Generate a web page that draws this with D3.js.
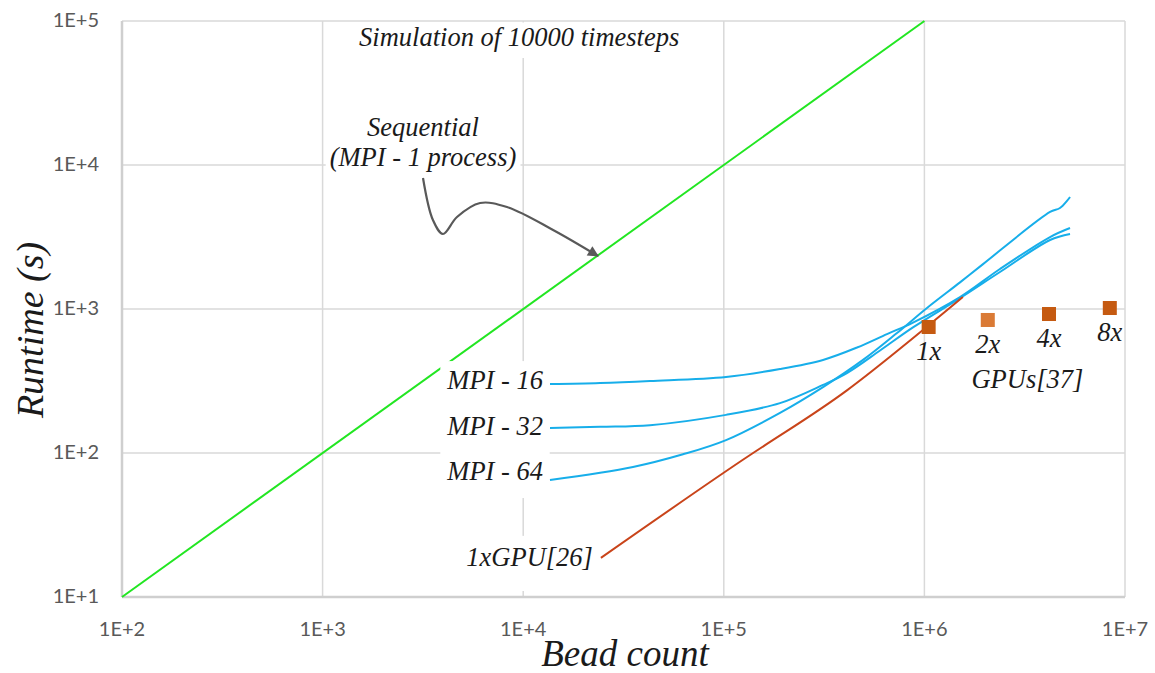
<!DOCTYPE html>
<html>
<head>
<meta charset="utf-8">
<script src="https://cdn.jsdelivr.net/npm/d3@7"></script>
<style>
  body { margin: 0; background: #fff; }
  svg text.serif { font-family: "Liberation Serif", "Times New Roman", serif; font-style: italic; fill: #1a1a1a; }
  svg text.tick { font-family: Lato, "Open Sans", sans-serif; fill: #595959; font-size: 20px; }
</style>
</head>
<body>
<svg id="chart" width="1155" height="673"></svg>
<script>
// axis ticks
const beadTicks = [1e2, 1e3, 1e4, 1e5, 1e6, 1e7];
const runtimeTicks = [1e1, 1e2, 1e3, 1e4, 1e5];

// sequential (MPI - 1 process)
const seqBeads = [1e2, 1e6];
const seqRuntime = [10, 1e5];

// MPI curves
const mpi16Beads = [13600, 24150, 42860, 102600, 190600, 312300, 461300, 651000, 877000, 1505000, 2380000, 4230000, 5320000];
const mpi16Runtime = [301, 306, 316, 337, 383, 443, 540, 670, 805, 1210, 1897, 3162, 3652];
const mpi32Beads = [13600, 24150, 42860, 102600, 190600, 312300, 411000, 601000, 877000, 1505000, 2380000, 4230000, 5320000];
const mpi32Runtime = [149, 152, 156, 184, 222, 297, 359, 515, 745, 1190, 1806, 3013, 3318];
const mpi64Beads = [13600, 35250, 62600, 102600, 190600, 312300, 494400, 730000, 1030000, 1505000, 1960000, 4230000, 4740000, 5320000];
const mpi64Runtime = [64.9, 80, 98, 123, 190, 287, 443, 681, 1016, 1530, 2050, 4721, 5028, 5995];

// 1xGPU[26]
const gpuLineBeads = [24400, 135200, 411000, 1556000];
const gpuLineRuntime = [18.7, 96.8, 272, 1211];

// GPUs[37]
const gpuCountLabels = ["1x", "2x", "4x", "8x"];
const gpuCountBeads = [1.05e6, 2.07e6, 4.18e6, 8.4e6];
const gpuCountRuntime = [750, 839, 923, 1016];

// annotation arrow path (data space)
const arrowBeads = [3166, 3548, 3981, 4677, 6095, 8299, 14090, 23600];
const arrowRuntime = [8128, 4150, 3318, 4355, 5445, 5105, 3540, 2333];

const width = 1155, height = 673;
const margin = {top: 21, right: 30, bottom: 76, left: 122};

const svg = d3.select('#chart');

const x = d3.scaleLog().domain([1e2, 1e7]).range([margin.left, width - margin.right]);
const y = d3.scaleLog().domain([1e1, 1e5]).range([height - margin.bottom, margin.top]);

const fmt = d => '1E+' + Math.round(Math.log10(d));

// grid
svg.append('g').selectAll('line')
    .data(beadTicks)
    .join('line')
    .attr('x1', d => x(d)).attr('x2', d => x(d))
    .attr('y1', y(1e1)).attr('y2', y(1e5))
    .attr('stroke', '#d9d9d9').attr('stroke-width', 1.5);
svg.append('g').selectAll('line')
    .data(runtimeTicks)
    .join('line')
    .attr('x1', x(1e2)).attr('x2', x(1e7))
    .attr('y1', d => y(d)).attr('y2', d => y(d))
    .attr('stroke', '#d9d9d9').attr('stroke-width', 1.5);

// axis lines
svg.append('line')
    .attr('x1', x(1e2)).attr('x2', x(1e7)).attr('y1', y(1e1)).attr('y2', y(1e1))
    .attr('stroke', '#cfcfcf').attr('stroke-width', 2.5);
svg.append('line')
    .attr('x1', x(1e2)).attr('x2', x(1e2)).attr('y1', y(1e1)).attr('y2', y(1e5))
    .attr('stroke', '#cfcfcf').attr('stroke-width', 2.5);

// tick labels
svg.append('g').selectAll('text')
    .data(beadTicks)
    .join('text')
    .attr('class', 'tick')
    .attr('x', d => x(d)).attr('y', y(1e1) + 34)
    .attr('text-anchor', 'middle').attr('dominant-baseline', 'middle')
    .text(fmt);
svg.append('g').selectAll('text')
    .data(runtimeTicks)
    .join('text')
    .attr('class', 'tick')
    .attr('x', x(1e2) - 23).attr('y', d => y(d) + 1)
    .attr('text-anchor', 'end').attr('dominant-baseline', 'middle')
    .text(fmt);

// axis titles
svg.append('text')
    .attr('class', 'serif')
    .attr('x', 625).attr('y', 666)
    .attr('text-anchor', 'middle')
    .style('font-size', '37px')
    .text('Bead count');
svg.append('text')
    .attr('class', 'serif')
    .attr('transform', `translate(43,${(y(1e1) + y(1e5)) / 2 + 21}) rotate(-90)`)
    .attr('text-anchor', 'middle')
    .style('font-size', '38px')
    .text('Runtime (s)');

const line = (xs, ys, curve) => d3.line()
    .x((d, i) => x(xs[i]))
    .y((d, i) => y(ys[i]))
    .curve(curve || d3.curveLinear)(xs);

// sequential
svg.append('path')
    .attr('d', line(seqBeads, seqRuntime))
    .attr('fill', 'none').attr('stroke', '#22e622').attr('stroke-width', 2);

// labels with white boxes (kept inside the plot frame)
function boxedLabels(items, pad) {
    const g = svg.append('g');
    const rect = g.append('rect').attr('fill', '#fff');
    const texts = g.selectAll('text')
        .data(items)
        .join('text')
        .attr('class', 'serif')
        .attr('x', d => d.x).attr('y', d => d.y)
        .attr('text-anchor', d => d.anchor || 'middle')
        .style('font-size', d => d.size + 'px')
        .text(d => d.text);
    let x0 = Infinity, y0 = Infinity, x1 = -Infinity, y1 = -Infinity;
    texts.each(function() {
        const b = this.getBBox();
        x0 = Math.min(x0, b.x); y0 = Math.min(y0, b.y);
        x1 = Math.max(x1, b.x + b.width); y1 = Math.max(y1, b.y + b.height);
    });
    const top = Math.max(y0 - pad[1], y(1e5) + 1.5);
    const bottom = Math.min(y1 + pad[2], y(1e1) - 6);
    rect.attr('x', x0 - pad[0]).attr('y', top)
        .attr('width', x1 - x0 + 2 * pad[0]).attr('height', bottom - top);
}

const fs = 26.5;
boxedLabels([{text: 'Simulation of 10000 timesteps', x: x(1e4) - 4, y: y(1e5) + 25, size: fs}], [8, 2, 6]);
boxedLabels([
    {text: 'Sequential', x: x(arrowBeads[0]), y: 136, size: fs},
    {text: '(MPI - 1 process)', x: x(arrowBeads[0]), y: 166, size: fs}
], [4, 2, 4]);
boxedLabels([
    {text: 'MPI - 16', x: x(mpi16Beads[0]) - 7, y: y(mpi16Runtime[0]) + 5, size: fs, anchor: 'end'},
    {text: 'MPI - 32', x: x(mpi32Beads[0]) - 7, y: y(mpi32Runtime[0]) + 7, size: fs, anchor: 'end'},
    {text: 'MPI - 64', x: x(mpi64Beads[0]) - 7, y: y(mpi64Runtime[0]) + 0, size: fs, anchor: 'end'}
], [6, 4, 12]);
boxedLabels([
    {text: '1xGPU[26]', x: x(gpuLineBeads[0]) - 8, y: y(gpuLineRuntime[0]) + 8, size: fs, anchor: 'end'}
], [4, 6, 24]);

// MPI curves
[[mpi16Beads, mpi16Runtime], [mpi32Beads, mpi32Runtime], [mpi64Beads, mpi64Runtime]].forEach(([b, r]) => {
    svg.append('path')
        .attr('d', line(b, r, d3.curveCatmullRom.alpha(0.5)))
        .attr('fill', 'none').attr('stroke', '#17aeea').attr('stroke-width', 2);
});

// 1xGPU line
svg.append('path')
    .attr('d', line(gpuLineBeads, gpuLineRuntime, d3.curveNatural))
    .attr('fill', 'none').attr('stroke', '#c9441a').attr('stroke-width', 2);

// GPU squares
const sq = 14;
svg.append('g').selectAll('rect')
    .data(gpuCountBeads)
    .join('rect')
    .attr('x', d => x(d) - sq / 2)
    .attr('y', (d, i) => y(gpuCountRuntime[i]) - sq / 2)
    .attr('width', sq).attr('height', sq)
    .attr('fill', (d, i) => i === 1 ? '#da7a35' : '#c55a11');
svg.append('g').selectAll('text')
    .data(gpuCountLabels)
    .join('text')
    .attr('class', 'serif')
    .attr('x', (d, i) => x(gpuCountBeads[i]))
    .attr('y', (d, i) => y(gpuCountRuntime[i]) + 33)
    .attr('text-anchor', 'middle')
    .style('font-size', fs + 'px')
    .text(d => d);
svg.append('text')
    .attr('class', 'serif')
    .attr('x', x(Math.sqrt(gpuCountBeads[1] * gpuCountBeads[2])) + 9)
    .attr('y', y(gpuCountRuntime[0]) + 61)
    .attr('text-anchor', 'middle')
    .style('font-size', fs + 'px')
    .text('GPUs[37]');

// annotation arrow
svg.append('defs').append('marker')
    .attr('id', 'arrowhead')
    .attr('viewBox', '0 0 10 10')
    .attr('refX', 9).attr('refY', 5)
    .attr('markerWidth', 6).attr('markerHeight', 5)
    .attr('markerUnits', 'strokeWidth')
    .attr('orient', 'auto')
    .append('path')
    .attr('d', 'M0,0 L10,5 L0,10 z')
    .attr('fill', '#595959');
svg.append('path')
    .attr('d', line(arrowBeads, arrowRuntime, d3.curveCatmullRom))
    .attr('fill', 'none').attr('stroke', '#595959').attr('stroke-width', 2.2)
    .attr('marker-end', 'url(#arrowhead)');
</script>
</body>
</html>
